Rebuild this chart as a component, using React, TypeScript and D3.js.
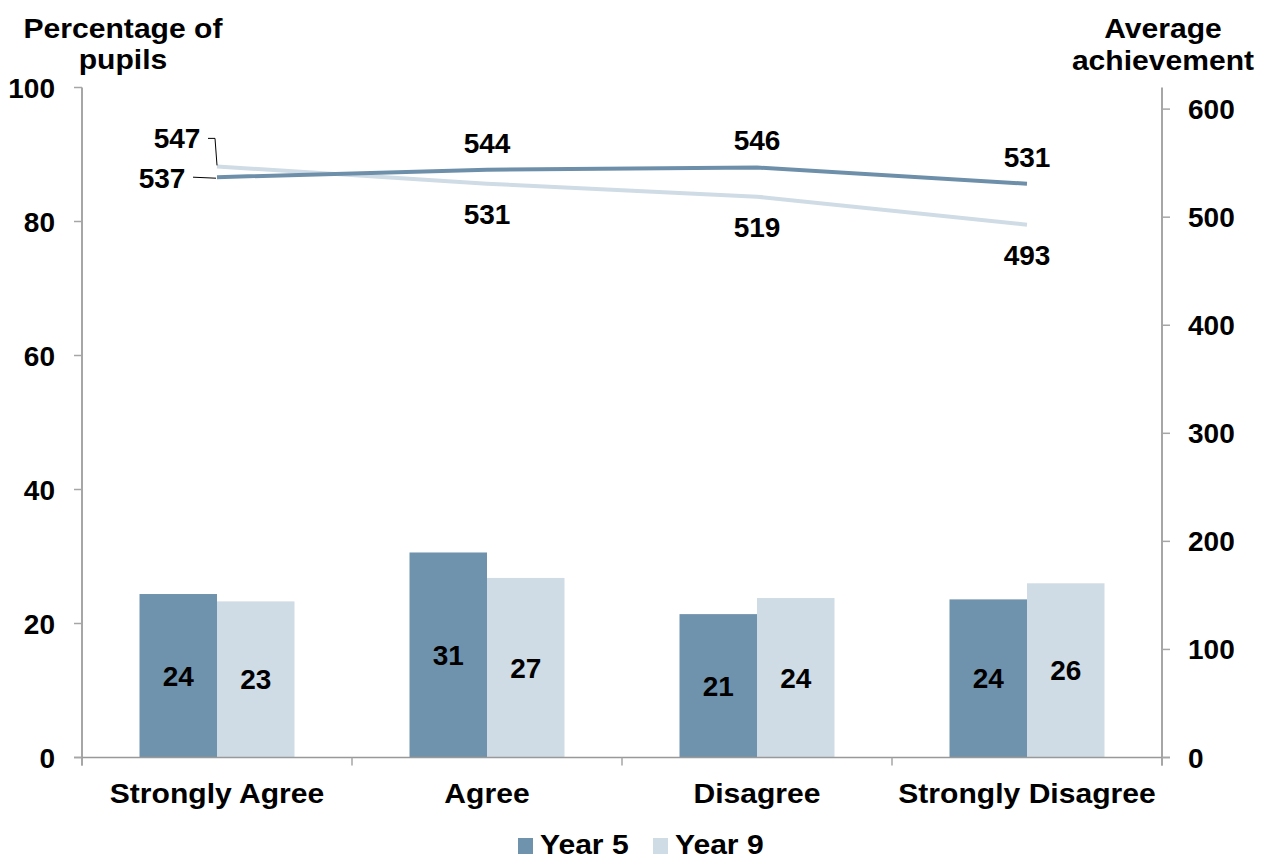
import React from "react";
import * as d3 from "d3";

const categories = ["Strongly Agree", "Agree", "Disagree", "Strongly Disagree"];
const seriesNames = ["Year 5", "Year 9"];
const pctYear5 = [24.4, 30.6, 21.4, 23.6];
const pctYear9 = [23.3, 26.8, 23.8, 26.0];
const achYear5 = [537, 544, 546, 531];
const achYear9 = [547, 531, 519, 493];
const leftTicks = [0, 20, 40, 60, 80, 100];
const rightTicks = [0, 100, 200, 300, 400, 500, 600];

const W = 1264;
const H = 859;
const plotLeft = 82;
const plotRight = 1162;
const plotTop = 87.5;
const plotBottom = 757.5;

const colors = ["#7093ad", "#cfdce5"];
const lineColors = ["#6e8fa9", "#cfdce5"];
const FONT = "'Liberation Sans', Arial, Helvetica, sans-serif";
const axisColor = "#a6a6a6";

function Word(props: { x: number; y: number; anchor?: string; children: React.ReactNode }) {
  return (
    <text
      transform={`translate(${props.x},${props.y}) scale(1.075,1)`}
      fontSize={28}
      textAnchor={props.anchor || "middle"}
    >
      {props.children}
    </text>
  );
}

export default function App() {
  const x0 = d3.scaleBand<string>().domain(categories).range([plotLeft, plotRight]).paddingInner(0).paddingOuter(0);
  const x1 = d3.scaleBand<string>().domain(seriesNames).range([0, x0.bandwidth()]).paddingInner(0).paddingOuter(0.742);
  const yL = d3.scaleLinear().domain([0, 100]).range([plotBottom, plotTop]);
  const yR = d3.scaleLinear().domain([0, 620]).range([plotBottom, plotTop]);
  const pcts = [pctYear5, pctYear9];
  const achs = [achYear5, achYear9];
  const cx = (c: string) => (x0(c) as number) + x0.bandwidth() / 2;

  const line = d3
    .line<number>()
    .x((_, i) => cx(categories[i]))
    .y((v) => yR(v));

  const boundaries = categories.map((c) => x0(c) as number).concat([plotRight]);

  return (
    <svg
      width={W}
      height={H}
      style={{ position: "absolute", left: 0, top: 0, display: "block", background: "#fff" }}
      fontFamily={FONT}
      fontWeight="bold"
    >
      {/* axis titles */}
      <Word x={123} y={38}>Percentage of</Word>
      <Word x={123} y={69}>pupils</Word>
      <Word x={1163} y={38}>Average</Word>
      <Word x={1163} y={70}>achievement</Word>

      {/* bars */}
      {categories.map((c, ci) =>
        seriesNames.map((s, si) => {
          const v = pcts[si][ci];
          const bx = (x0(c) as number) + (x1(s) as number);
          const by = yL(v);
          return (
            <g key={c + s}>
              <rect x={bx} y={by} width={x1.bandwidth()} height={plotBottom - by} fill={colors[si]} />
              <text
                x={bx + x1.bandwidth() / 2}
                y={(by + plotBottom) / 2 + 10}
                fontSize={28}
                textAnchor="middle"
              >
                {Math.round(v)}
              </text>
            </g>
          );
        })
      )}

      {/* axes */}
      <line x1={plotLeft} x2={plotLeft} y1={plotTop} y2={plotBottom + 8} stroke={axisColor} strokeWidth={2} />
      <line x1={plotRight} x2={plotRight} y1={plotTop} y2={plotBottom + 8} stroke={axisColor} strokeWidth={2} />
      <line x1={plotLeft - 8} x2={plotRight + 8} y1={plotBottom} y2={plotBottom} stroke="#999" strokeWidth={1.5} />
      {boundaries.map((b, i) => (
        <line key={"xb" + i} x1={b} x2={b} y1={plotBottom} y2={plotBottom + 8} stroke={axisColor} strokeWidth={1.5} />
      ))}
      {leftTicks.map((t) => (
        <g key={"l" + t}>
          <line x1={plotLeft - 8} x2={plotLeft} y1={yL(t)} y2={yL(t)} stroke={axisColor} strokeWidth={1.5} />
          <text x={55} y={yL(t) + 10} fontSize={28} textAnchor="end">{t}</text>
        </g>
      ))}
      {rightTicks.map((t) => (
        <g key={"r" + t}>
          <line x1={plotRight} x2={plotRight + 8} y1={yR(t)} y2={yR(t)} stroke={axisColor} strokeWidth={1.5} />
          <text x={1188} y={yR(t) + 10} fontSize={28} textAnchor="start">{t}</text>
        </g>
      ))}

      {/* category labels */}
      {categories.map((c) => (
        <Word key={c} x={cx(c)} y={803}>{c}</Word>
      ))}

      {/* lines */}
      {[1, 0].map((si) => (
        <path key={"line" + si} d={line(achs[si]) as string} fill="none" stroke={lineColors[si]} strokeWidth={4} />
      ))}

      {/* line labels */}
      {achs.map((arr, si) =>
        arr.map((v, ci) => {
          const px = cx(categories[ci]);
          const py = yR(v);
          if (ci === 0) {
            if (si === 0) {
              return (
                <g key={"ll" + si + ci}>
                  <polyline points={`${px - 24},${py} ${px - 1},${py + 1}`} fill="none" stroke="#000" strokeWidth={1} />
                  <text x={px - 55} y={py + 11} fontSize={28} textAnchor="middle">{v}</text>
                </g>
              );
            }
            return (
              <g key={"ll" + si + ci}>
                <polyline
                  points={`${px - 9},${py - 28} ${px - 2},${py - 28} ${px},${py - 1}`}
                  fill="none"
                  stroke="#000"
                  strokeWidth={1}
                />
                <text x={px - 40} y={py - 18} fontSize={28} textAnchor="middle">{v}</text>
              </g>
            );
          }
          const ly = si === 0 ? py - 27 : py + 30;
          return (
            <text key={"ll" + si + ci} x={px} y={ly + 10} fontSize={28} textAnchor="middle">{v}</text>
          );
        })
      )}

      {/* legend */}
      {seriesNames.map((s, si) => {
        const lx = si === 0 ? 518 : 653;
        return (
          <g key={"leg" + s}>
            <rect x={lx} y={838} width={15} height={16} fill={colors[si]} />
            <Word x={lx + 22} y={854} anchor="start">{s}</Word>
          </g>
        );
      })}
    </svg>
  );
}
